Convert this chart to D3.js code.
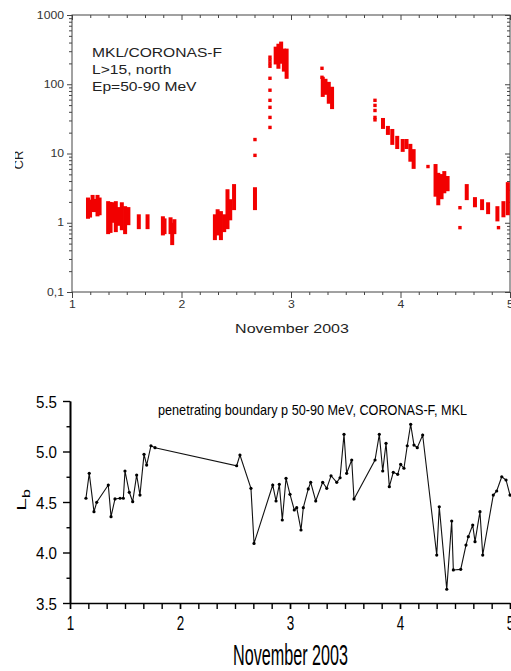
<!DOCTYPE html>
<html>
<head>
<meta charset="utf-8">
<script src="https://cdn.jsdelivr.net/npm/d3@7"></script>
<style>
  body { margin: 0; background: #fff; }
  svg { display: block; }
  text { font-family: "Liberation Sans", Arial, sans-serif; }
</style>
</head>
<body>
<svg id="chart" width="511" height="671"></svg>
<script>
// ---- top panel: count rate, MKL/CORONAS-F ----
// dense columns of points: [day, lowest CR, highest CR]
var crColumns = [
  [1.146, 1.2, 2.2], [1.165, 1.25, 2.05], [1.188, 1.5, 2.4], [1.21, 1.5, 2.1], [1.233, 1.3, 2.4], [1.252, 1.35, 2.2],
  [1.33, 0.72, 1.95], [1.352, 0.75, 1.9], [1.375, 1.05, 1.88], [1.40, 0.77, 1.95], [1.428, 0.95, 1.6],
  [1.455, 0.82, 1.88], [1.485, 0.72, 1.65], [1.515, 0.97, 1.6],
  [1.61, 0.85, 1.26], [1.69, 0.85, 1.26],
  [1.83, 0.69, 1.18], [1.845, 0.72, 1.1], [1.9, 0.72, 1.14], [1.915, 0.5, 0.95], [1.935, 0.72, 1.07],
  [2.305, 0.59, 1.26], [2.33, 0.69, 1.49], [2.36, 0.59, 1.4], [2.39, 0.77, 1.26], [2.42, 0.85, 2.9],
  [2.445, 1.14, 2.08], [2.48, 1.6, 3.44],
  [2.671, 1.6, 3.1],
  [2.86, 203, 332], [2.885, 176, 366], [2.91, 208, 393], [2.935, 160, 311], [2.96, 126, 311],
  [3.29, 69, 122], [3.315, 74, 114], [3.345, 55, 103], [3.375, 46, 87.5],
  [3.84, 23.8, 31], [3.885, 19.5, 23.8], [3.925, 14.0, 21.5], [3.97, 12.2, 17.1], [4.02, 11.1, 15.4],
  [4.055, 12.2, 15.4], [4.09, 8.0, 13.1], [4.12, 6.3, 11],
  [4.32, 2.5, 6.7], [4.345, 1.88, 5.0], [4.375, 2.3, 4.8], [4.40, 2.8, 5.3], [4.43, 3.0, 4.5],
  [4.605, 2.23, 3.44], [4.68, 1.76, 2.23], [4.745, 1.6, 2.08], [4.8, 1.4, 1.88], [4.885, 1.1, 1.65],
  [4.94, 1.26, 1.95], [4.98, 1.35, 3.67]
];
// isolated points: [day, CR]
var crPoints = [
  [2.671, 15.9], [2.671, 9.4],
  [2.808, 246], [2.808, 223], [2.808, 201], [2.808, 182], [2.808, 122], [2.808, 82],
  [2.808, 58.6], [2.808, 46.4], [2.808, 33.2], [2.808, 23.8],
  [3.283, 170], [3.283, 126],
  [3.767, 58.6], [3.767, 49.5], [3.767, 41.8], [3.767, 33.2], [3.767, 30.6],
  [4.251, 6.48], [4.543, 1.65], [4.543, 0.85], [4.895, 0.85]
];
var crMajorTicks = [0.1, 1, 10, 100, 1000];
var crTickLabels = ["0,1", "1", "10", "100", "1000"];
var dayTicks = [1, 2, 3, 4, 5];
var noteLines = ["MKL/CORONAS-F", "L>15, north", "Ep=50-90 MeV"];

// ---- bottom panel: penetrating boundary Lb ----
var lbDays = [1.145, 1.175, 1.218, 1.243, 1.348, 1.373, 1.409, 1.455, 1.485, 1.5, 1.539, 1.57, 1.606, 1.636,
  1.673, 1.697, 1.736, 1.773, 2.515, 2.545, 2.645, 2.673, 2.843, 2.873, 2.903, 2.93, 2.964, 3.0, 3.039,
  3.061, 3.1, 3.121, 3.166, 3.188, 3.234, 3.297, 3.334, 3.373, 3.425, 3.455, 3.491, 3.515, 3.561, 3.582,
  3.773, 3.812, 3.843, 3.873, 3.903, 3.939, 3.979, 4.006, 4.036, 4.066, 4.097, 4.127, 4.157, 4.206,
  4.334, 4.357, 4.425, 4.47, 4.485, 4.552, 4.6, 4.621, 4.661, 4.682, 4.727, 4.752, 4.848, 4.879, 4.925,
  4.964, 5.0];
var lbValues = [4.537, 4.784, 4.404, 4.497, 4.668, 4.355, 4.53, 4.537, 4.537, 4.807, 4.596, 4.503, 4.767, 4.569,
  4.972, 4.866, 5.057, 5.038, 4.859, 4.965, 4.635, 4.09, 4.668, 4.51, 4.675, 4.322, 4.734, 4.576, 4.421,
  4.444, 4.223, 4.444, 4.629, 4.695, 4.51, 4.695, 4.635, 4.76, 4.695, 4.74, 5.17, 4.784, 4.916, 4.53,
  4.916, 5.17, 4.807, 5.081, 4.652, 4.794, 4.774, 4.873, 4.834, 5.057, 5.269, 5.064, 5.038, 5.163,
  3.975, 4.453, 3.636, 4.312, 3.827, 3.833, 4.074, 4.157, 4.272, 4.107, 4.404, 3.975, 4.569, 4.609, 4.75,
  4.718, 4.569];
var lbMajorTicks = [3.5, 4.0, 4.5, 5.0, 5.5];
var lbTitle = "penetrating boundary p 50-90 MeV, CORONAS-F, MKL";
var xTitle = "November 2003";

var svg = d3.select("#chart");

// widen text like the scanned top panel
function stretch(sel, k) {
  sel.each(function() {
    var w = this.getComputedTextLength();
    d3.select(this).attr("textLength", w * k).attr("lengthAdjust", "spacingAndGlyphs");
  });
}
function fit(sel, w) {
  sel.attr("textLength", w).attr("lengthAdjust", "spacingAndGlyphs");
}

// ================= top panel =================
var x1 = d3.scaleLinear().domain([1, 5]).range([72, 510]);
var y1 = d3.scaleLog().domain([0.1, 1000]).range([292, 15]);
var dayMinor = d3.range(1, 5.0001, 1 / 6).filter(function(d) { return Math.abs(d - Math.round(d)) > 1e-6; });
var logMinor = [];
[0.1, 1, 10, 100].forEach(function(dec) { for (var m = 2; m < 10; m++) logMinor.push(dec * m); });

var topG = svg.append("g");
topG.append("rect").attr("x", x1(1)).attr("y", y1(1000))
  .attr("width", x1(5) - x1(1)).attr("height", y1(0.1) - y1(1000))
  .attr("fill", "none").attr("stroke", "#444").attr("stroke-width", 1);

function styleAxis(g, col) {
  g.select(".domain").remove();
  g.selectAll("line").attr("stroke", col).attr("stroke-width", 1);
}
topG.append("g").attr("transform", "translate(0," + y1(0.1) + ")")
  .call(d3.axisBottom(x1).tickValues(dayTicks).tickSize(6).tickFormat(d3.format("d")))
  .call(styleAxis, "#444");
topG.append("g").attr("transform", "translate(0," + y1(0.1) + ")")
  .call(d3.axisBottom(x1).tickValues(dayMinor).tickSize(3).tickFormat(""))
  .call(styleAxis, "#444");
topG.append("g").attr("transform", "translate(0," + y1(1000) + ")")
  .call(d3.axisTop(x1).tickValues(dayTicks).tickSize(-5).tickFormat(""))
  .call(styleAxis, "#444");
topG.append("g").attr("transform", "translate(0," + y1(1000) + ")")
  .call(d3.axisTop(x1).tickValues(dayMinor).tickSize(-3).tickFormat(""))
  .call(styleAxis, "#444");
topG.append("g").attr("transform", "translate(" + x1(1) + ",0)")
  .call(d3.axisLeft(y1).tickValues(crMajorTicks).tickSize(5)
    .tickFormat(function(d, i) { return crTickLabels[i]; }))
  .call(styleAxis, "#444");
topG.append("g").attr("transform", "translate(" + x1(1) + ",0)")
  .call(d3.axisLeft(y1).tickValues(logMinor).tickSize(3).tickFormat(""))
  .call(styleAxis, "#444");
topG.append("g").attr("transform", "translate(" + x1(5) + ",0)")
  .call(d3.axisRight(y1).tickValues(crMajorTicks).tickSize(-5).tickFormat(""))
  .call(styleAxis, "#444");
topG.append("g").attr("transform", "translate(" + x1(5) + ",0)")
  .call(d3.axisRight(y1).tickValues(logMinor).tickSize(-3).tickFormat(""))
  .call(styleAxis, "#444");

topG.selectAll(".tick text")
  .style("font-size", "10px").attr("fill", "#333");
topG.selectAll(".tick text").call(stretch, 1.22);

topG.selectAll("rect.col").data(crColumns).join("rect").attr("class", "col")
  .attr("x", function(d) { return x1(d[0]) - 2; })
  .attr("y", function(d) { return y1(d[2]) - 1.5; })
  .attr("width", 4)
  .attr("height", function(d) { return y1(d[1]) - y1(d[2]) + 3; })
  .attr("fill", "#f20000");
topG.selectAll("rect.pt").data(crPoints).join("rect").attr("class", "pt")
  .attr("x", function(d) { return x1(d[0]) - 1.7; })
  .attr("y", function(d) { return y1(d[1]) - 1.7; })
  .attr("width", 3.4).attr("height", 3.4)
  .attr("fill", "#f20000");

var note = topG.append("g");
note.selectAll("text").data(noteLines).join("text")
  .attr("x", 92).attr("y", function(d, i) { return 57 + i * 17; })
  .style("font-size", "13px").attr("fill", "#222")
  .text(function(d) { return d; })
  .call(stretch, 1.2);

topG.append("text").attr("x", (x1(1) + x1(5)) / 2 + 1).attr("y", 333)
  .attr("text-anchor", "middle").style("font-size", "13px").attr("fill", "#222")
  .text(xTitle).call(stretch, 1.23);

svg.append("clipPath").attr("id", "crclip").append("rect")
  .attr("x", 15).attr("y", 0).attr("width", 40).attr("height", 340);
topG.append("g").attr("clip-path", "url(#crclip)")
  .append("text")
  .attr("transform", "translate(23,160) rotate(-90)")
  .attr("text-anchor", "middle").style("font-size", "13px").attr("fill", "#222")
  .text("CR");

// ================= bottom panel =================
var x2 = d3.scaleLinear().domain([1, 5]).range([70, 510]);
var y2 = d3.scaleLinear().domain([3.5, 5.5]).range([603, 401]);
var lbData = lbDays.map(function(d, i) { return [d, lbValues[i]]; });

var bot = svg.append("g");
function blackAxis(g) {
  g.select(".domain").attr("stroke", "#000").attr("stroke-width", 1.6);
  g.selectAll("line").attr("stroke", "#000").attr("stroke-width", 1.4);
}
bot.append("g").attr("transform", "translate(0," + y2(3.5) + ")")
  .call(d3.axisBottom(x2).tickValues(d3.range(1, 5.0001, 1 / 6)).tickSize(6).tickSizeOuter(0).tickFormat(""))
  .call(blackAxis);
var xb = bot.append("g").attr("transform", "translate(0," + y2(3.5) + ")")
  .call(d3.axisBottom(x2).tickValues(dayTicks).tickSize(6).tickSizeOuter(0).tickFormat(d3.format("d")))
  .call(blackAxis);
xb.select(".domain").remove();
xb.selectAll(".tick text").attr("y", 12).attr("dy", "0.71em")
  .style("font-size", "21px").attr("fill", "#000").call(fit, 7.5);

bot.append("g").attr("transform", "translate(" + x2(1) + ",0)")
  .call(d3.axisLeft(y2).tickValues([3.75, 4.25, 4.75, 5.25]).tickSize(3.5).tickSizeOuter(0).tickFormat(""))
  .call(blackAxis);
var yb = bot.append("g").attr("transform", "translate(" + x2(1) + ",0)")
  .call(d3.axisLeft(y2).tickValues(lbMajorTicks).tickSize(7).tickSizeOuter(0).tickFormat(d3.format(".1f")))
  .call(blackAxis);
yb.selectAll(".tick text").attr("x", -13).attr("dy", "0.36em")
  .style("font-size", "17px").attr("fill", "#000").call(fit, 21);

var line = d3.line().x(function(d) { return x2(d[0]); }).y(function(d) { return y2(d[1]); });
bot.append("path").datum(lbData).attr("d", line)
  .attr("fill", "none").attr("stroke", "#111").attr("stroke-width", 1.1);
bot.selectAll("circle").data(lbData).join("circle")
  .attr("cx", function(d) { return x2(d[0]); })
  .attr("cy", function(d) { return y2(d[1]); })
  .attr("r", 1.6).attr("fill", "#000");

bot.append("text").attr("x", 158).attr("y", 415)
  .style("font-size", "15px").attr("fill", "#000")
  .text(lbTitle).call(fit, 309);

bot.append("text").attr("x", 233).attr("y", 665)
  .style("font-size", "29px").attr("fill", "#000")
  .text(xTitle).call(fit, 115);

var lb = bot.append("text").attr("transform", "translate(26,511) rotate(-90)")
  .style("font-size", "13px").attr("fill", "#000");
lb.append("tspan").text("L").attr("textLength", 13).attr("lengthAdjust", "spacingAndGlyphs");
lb.append("tspan").attr("dy", 4).style("font-size", "11px").text("b")
  .attr("textLength", 9).attr("lengthAdjust", "spacingAndGlyphs");
</script>
</body>
</html>
